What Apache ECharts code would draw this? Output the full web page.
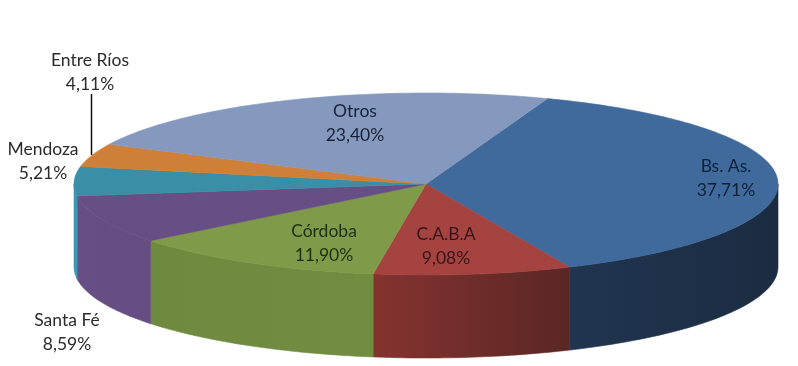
<!DOCTYPE html>
<html><head><meta charset="utf-8">
<style>html,body{margin:0;padding:0;background:#fff}#c{width:798px;height:366px}</style>
<script src="https://cdn.jsdelivr.net/npm/echarts@6/dist/echarts.min.js"></script>
</head><body><div id="c"></div>
<script>
const categories = ['Bs. As.','C.A.B.A','Córdoba','Santa Fé','Mendoza','Entre Ríos','Otros'];
const values = [37.71, 9.08, 11.90, 8.59, 5.21, 4.11, 23.40];

const topColors = ['#3f6a9b','#a44340','#7f9a48','#674e85','#3a8ea6','#d07f38','#8599bf'];
const sideLeft = ['#21354f','#85332f','#6f8a3f','#674e85','#3b98b2','#c07030','#7488ad'];
const sideRight = ['#1b2c42','#5a2725','#728d41','#654c82','#3b98b2','#c07030','#7488ad'];
const labelPos = [[90,72],[43,161],[67,332],[324,243],[446,246],[726,178],[355,123]];
const labelIndex = [5,4,3,2,1,0,6];
const textColors = ['#0f2138','#3a1518','#1f3010','#2b2b2b','#2b2b2b','#2b2b2b','#1a2238'];

const CX=426, CY=184, RX=352, RY=91, DEPTH=83, START=20.2;
const total = values.reduce((a,b)=>a+b,0);
const rad = d => d*Math.PI/180;
const pt = (a,dy=0) => [CX+RX*Math.sin(rad(a)), CY-RY*Math.cos(rad(a))+dy];

function renderItem(params, api){
  const i = params.dataIndex;
  let acc = 0; for(let k=0;k<i;k++) acc += values[k];
  const a0 = START + acc/total*360, a1 = START + (acc+values[i])/total*360;
  const children = [];
  const s0 = Math.max(a0,90), s1 = Math.min(a1,270);
  if (s1 > s0){
    const upper=[], lower=[];
    for(let a=s0;;a+=1){ const t=Math.min(a,s1); upper.push(pt(t)); lower.unshift(pt(t,DEPTH)); if(t>=s1)break; }
    const grad = new echarts.graphic.LinearGradient(0,0,1,0,[{offset:0,color:sideLeft[i]},{offset:1,color:sideRight[i]}]);
    children.push({type:'polygon',shape:{points:upper.concat(lower)},style:{fill:grad,stroke:grad,lineWidth:0.6}});
  }
  const face=[[CX,CY]];
  for(let a=a0;;a+=1){ const t=Math.min(a,a1); face.push(pt(t)); if(t>=a1)break; }
  children.push({type:'polygon',shape:{points:face},style:{fill:topColors[i],stroke:topColors[i],lineWidth:0.6}});
  return {type:'group',children};
}

const chart = echarts.init(document.getElementById('c'),null,{renderer:'canvas'});
const labels = labelIndex.map((i,n)=>({
  type:'text',
  style:{x:labelPos[n][0],y:labelPos[n][1],text:categories[i]+'\n'+values[i].toFixed(2).replace('.',',')+'%',
    textAlign:'center',textVerticalAlign:'middle',font:'17.5px Lato, "Open Sans", sans-serif',lineHeight:24,fill:textColors[i]},
  z:10,silent:true
}));
chart.setOption({
  animation:false,
  backgroundColor:'#ffffff',
  series:[{type:'custom',coordinateSystem:'none',renderItem,silent:true,
    data:categories.map((c,i)=>({name:c,value:values[i]}))}],
  graphic:{elements:[
    {type:'line',shape:{x1:91.5,y1:94,x2:91.5,y2:155},style:{stroke:'#111',lineWidth:1.5},z:10,silent:true},
    ...labels
  ]}
});
</script></body></html>
